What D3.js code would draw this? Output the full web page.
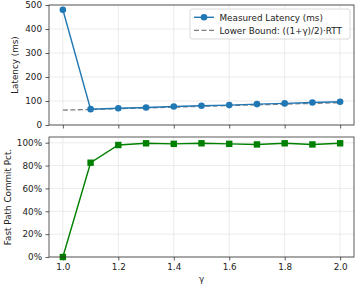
<!DOCTYPE html>
<html>
<head>
<meta charset="utf-8">
<script src="https://cdn.jsdelivr.net/npm/d3@7"></script>
<style>
  body { margin: 0; background: #fff; }
  text { font-family: "DejaVu Sans", sans-serif; }
</style>
</head>
<body>
<div id="chart"></div>
<script>
// data
var gamma = [1.0, 1.1, 1.2, 1.3, 1.4, 1.5, 1.6, 1.7, 1.8, 1.9, 2.0];
var latency = [480, 66, 70, 73, 77, 80, 83, 87, 90, 94, 97];
var lowerBound = [62, 65, 68, 71, 74, 78, 81, 84, 87, 90, 93];
var fastPct = [0, 82.5, 98, 99.5, 99, 99.5, 99, 98.5, 99.5, 98.5, 99.5];
var xTicks = [1.0, 1.2, 1.4, 1.6, 1.8, 2.0];
var latTicks = [0, 100, 200, 300, 400, 500];
var pctTicks = [0, 20, 40, 60, 80, 100];

var W = 357, H = 286;
var left = 49, right = 354;
var fs = 8.8;

var svg = d3.select("#chart").append("svg")
  .attr("width", W).attr("height", H);

var x = d3.scaleLinear().domain([0.95, 2.05]).range([left, right]);

var yTop = d3.scaleLinear().domain([0, 500]).range([125, 5]);
var yBot = d3.scaleLinear().domain([0, 105]).range([257, 137]);

function panel(y, yticks, fmt, showX) {
  var g = svg.append("g");
  // grid
  g.selectAll(".vg").data(xTicks).enter().append("line")
    .attr("x1", d => x(d)).attr("x2", d => x(d))
    .attr("y1", y.range()[1]).attr("y2", y.range()[0])
    .attr("stroke", "#e6e6e6").attr("stroke-width", 0.8);
  g.selectAll(".hg").data(yticks).enter().append("line")
    .attr("x1", left).attr("x2", right)
    .attr("y1", d => y(d)).attr("y2", d => y(d))
    .attr("stroke", "#e6e6e6").attr("stroke-width", 0.8);

  var ax = g.append("g").attr("transform", "translate(0," + y.range()[0] + ")")
    .call(d3.axisBottom(x).tickValues(xTicks).tickSize(3.5).tickPadding(3)
      .tickFormat(showX ? d3.format(".1f") : ""));
  var ay = g.append("g").attr("transform", "translate(" + left + ",0)")
    .call(d3.axisLeft(y).tickValues(yticks).tickSize(3.5).tickPadding(3.5).tickFormat(fmt));
  [ax, ay].forEach(function(a) {
    a.select(".domain").remove();
    a.selectAll("line").attr("stroke", "#333").attr("stroke-width", 0.8);
    a.selectAll("text").attr("font-size", fs).attr("fill", "#222")
      .style("font-family", "DejaVu Sans");
  });
  return g;
}

var gTop = panel(yTop, latTicks, d3.format("d"), false);
var gBot = panel(yBot, pctTicks, function(d) { return d + "%"; }, true);

// top lines
var lineLat = d3.line().x((d, i) => x(gamma[i])).y(d => yTop(d));
gTop.append("path").datum(lowerBound)
  .attr("fill", "none").attr("stroke", "#808080").attr("stroke-width", 1.3)
  .attr("stroke-dasharray", "5,2.5").attr("d", lineLat);
gTop.append("path").datum(latency)
  .attr("fill", "none").attr("stroke", "#1f77b4").attr("stroke-width", 1.4)
  .attr("d", lineLat);
gTop.selectAll(".pt").data(latency).enter().append("circle")
  .attr("cx", (d, i) => x(gamma[i])).attr("cy", d => yTop(d))
  .attr("r", 3.3).attr("fill", "#1f77b4");

// bottom line
var linePct = d3.line().x((d, i) => x(gamma[i])).y(d => yBot(d));
gBot.append("path").datum(fastPct)
  .attr("fill", "none").attr("stroke", "#008000").attr("stroke-width", 1.4)
  .attr("d", linePct);
gBot.selectAll(".sq").data(fastPct).enter().append("rect")
  .attr("x", (d, i) => x(gamma[i]) - 3.2).attr("y", d => yBot(d) - 3.2)
  .attr("width", 6.4).attr("height", 6.4).attr("fill", "#008000");

// frames
[yTop, yBot].forEach(function(y) {
  svg.append("rect")
    .attr("x", left).attr("y", y.range()[1])
    .attr("width", right - left).attr("height", y.range()[0] - y.range()[1])
    .attr("fill", "none").attr("stroke", "#333").attr("stroke-width", 0.8);
});

// legend
var lg = svg.append("g").attr("transform", "translate(190,9)");
lg.append("rect").attr("width", 160).attr("height", 30).attr("rx", 2)
  .attr("fill", "#fff").attr("fill-opacity", 0.8)
  .attr("stroke", "#d0d0d0").attr("stroke-width", 0.8);
lg.append("line").attr("x1", 4).attr("x2", 24).attr("y1", 8.3).attr("y2", 8.3)
  .attr("stroke", "#1f77b4").attr("stroke-width", 1.4);
lg.append("circle").attr("cx", 14).attr("cy", 8.3).attr("r", 3.3).attr("fill", "#1f77b4");
lg.append("line").attr("x1", 4).attr("x2", 24).attr("y1", 21.3).attr("y2", 21.3)
  .attr("stroke", "#808080").attr("stroke-width", 1.3).attr("stroke-dasharray", "5,2.5");
lg.append("text").attr("x", 29.5).attr("y", 11.5).attr("font-size", fs).attr("fill", "#222")
  .text("Measured Latency (ms)");
lg.append("text").attr("x", 29.5).attr("y", 24.5).attr("font-size", fs).attr("fill", "#222")
  .text("Lower Bound: ((1+γ)/2)·RTT");

// axis labels
svg.append("text").attr("transform", "translate(18,65) rotate(-90)")
  .attr("text-anchor", "middle").attr("font-size", fs).attr("fill", "#222")
  .text("Latency (ms)");
svg.append("text").attr("transform", "translate(11,197) rotate(-90)")
  .attr("text-anchor", "middle").attr("font-size", fs).attr("fill", "#222")
  .text("Fast Path Commit Pct.");
svg.append("text").attr("x", (left + right) / 2).attr("y", 282)
  .attr("text-anchor", "middle").attr("font-size", fs).attr("fill", "#222")
  .text("γ");
</script>
</body>
</html>
